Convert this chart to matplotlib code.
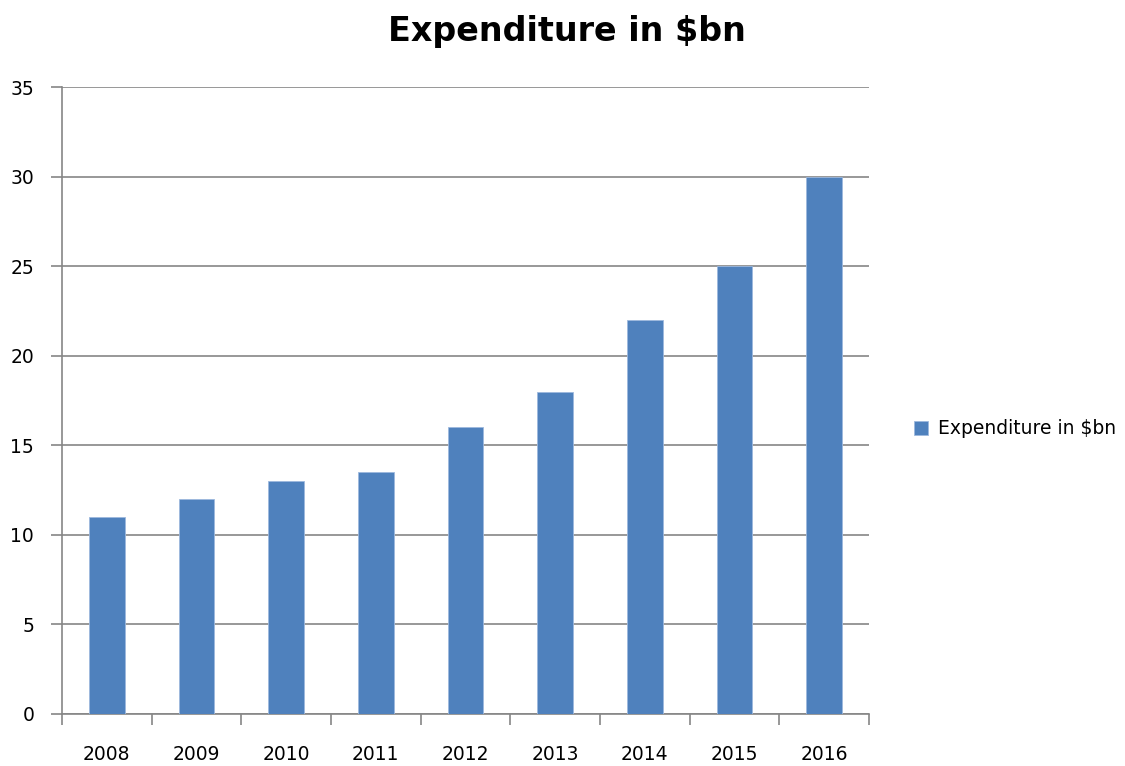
import numpy as np
import matplotlib.pyplot as plt

years = ['2008', '2009', '2010', '2011', '2012', '2013', '2014', '2015', '2016']
spend = [11, 12, 13, 13.5, 16, 18, 22, 25, 30]
series_name = 'Expenditure in $bn'

fig = plt.figure(figsize=(11.25, 7.66), dpi=100)
ax = fig.add_axes([0.0551, 0.0679, 0.7173, 0.8185])

xs = np.arange(len(years))
ax.bar(xs, spend, 0.4, color='#4F81BD', edgecolor='#9DB9DE', linewidth=0.6,
       label=series_name, zorder=3)

ax.set_xlim(-0.5, len(years) - 0.5)
ax.set_ylim(0, 35)
ax.set_yticks(np.arange(0, 36, 5))
ax.set_xticks(xs)
ax.set_xticklabels(years)
ax.set_xticks(np.arange(-0.5, len(years), 1), minor=True)
ax.tick_params(axis='x', which='major', length=0, pad=22, labelsize=13.5)
ax.tick_params(axis='x', which='minor', length=8, color='#868686', width=1.2)
ax.tick_params(axis='y', length=8, color='#868686', width=1.2, pad=12, labelsize=13.5)

ax.yaxis.grid(True, color='#868686', linewidth=1.2, zorder=0)
for s in ['top', 'right']:
    ax.spines[s].set_visible(False)
for s in ['left', 'bottom']:
    ax.spines[s].set_color('#868686')
    ax.spines[s].set_linewidth(1.2)

fig.suptitle(series_name, x=0.504, y=0.98, fontsize=24, fontweight='bold')

ax.legend(loc='center left', bbox_to_anchor=(1.035, 0.455), frameon=False,
          fontsize=13.5, handlelength=0.75, handleheight=0.75, handletextpad=0.5)

fig.savefig('out.png', dpi=100)
